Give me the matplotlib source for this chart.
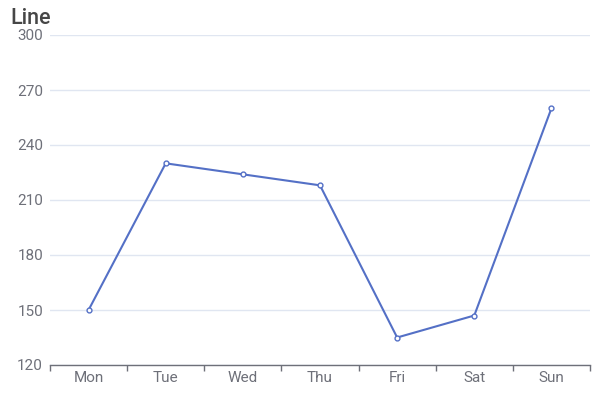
import matplotlib.pyplot as plt

days = ["Mon", "Tue", "Wed", "Thu", "Fri", "Sat", "Sun"]
values = [150, 230, 224, 218, 135, 147, 260]
y_ticks = [120, 150, 180, 210, 240, 270, 300]

plt.rcParams["font.family"] = ["Roboto", "DejaVu Sans"]

fig = plt.figure(figsize=(6, 4), dpi=100)
ax = fig.add_axes([50 / 600, 35 / 400, 540 / 600, 330 / 400])

x = list(range(len(days)))
ax.plot(x, values, color="#5470c6", lw=1.5, marker="o", ms=3.5,
        mfc="white", mec="#5470c6", mew=1.0, zorder=3, clip_on=False)

ax.set_xlim(-0.5, len(days) - 0.5)
ax.set_ylim(120, 300)
ax.set_yticks(y_ticks)
ax.grid(axis="y", color="#E0E6F1", lw=1)
ax.set_axisbelow(True)

# category labels centred in bands, ticks on band boundaries
ax.set_xticks(x)
ax.set_xticklabels(days)
ax.set_xticks([i - 0.5 for i in range(len(days) + 1)], minor=True)
ax.tick_params(axis="x", which="major", length=0, pad=4.5,
               labelsize=11, labelcolor="#6E7079")
ax.tick_params(axis="x", which="minor", length=4, color="#6E7079", width=1)
ax.tick_params(axis="y", length=0, pad=5, labelsize=11, labelcolor="#6E7079")

for s in ["top", "right", "left"]:
    ax.spines[s].set_visible(False)
ax.spines["bottom"].set_color("#6E7079")
ax.spines["bottom"].set_linewidth(1)

fig.text(10 / 600, 1 - 18 / 400, "Line", fontsize=15.5, color="#464646",
         fontweight="medium", va="center", ha="left")

fig.savefig("out.png", dpi=100)
